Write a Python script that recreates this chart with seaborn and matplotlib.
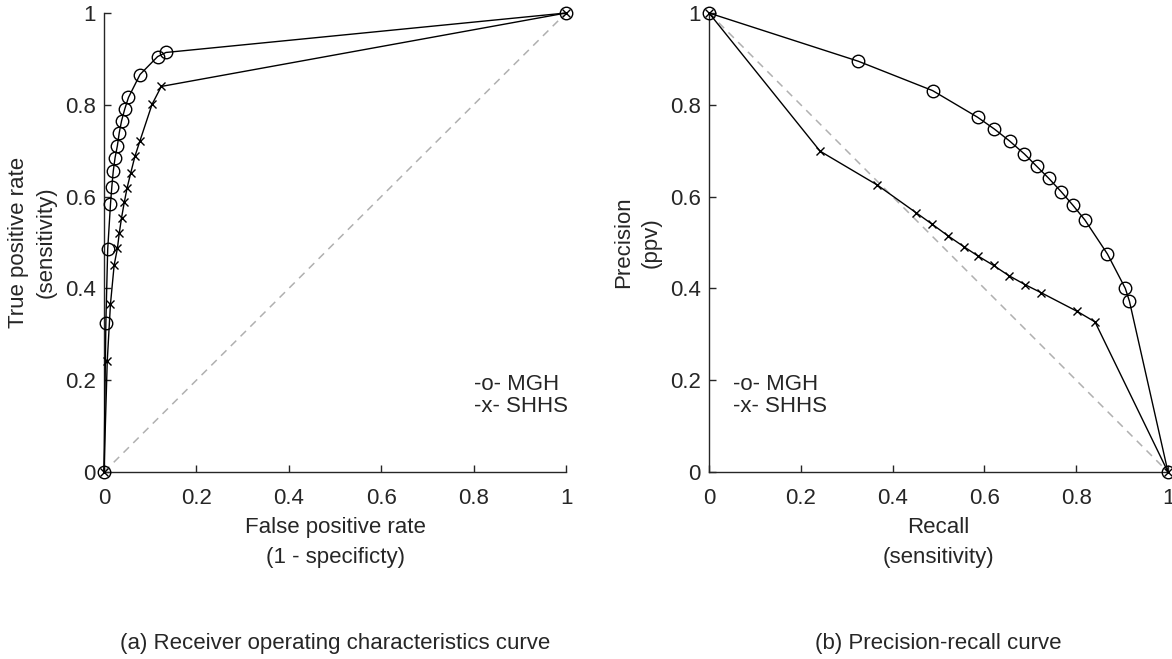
import numpy as np
import pandas as pd
import matplotlib
matplotlib.use("Agg")
import matplotlib.pyplot as plt
import seaborn as sns

# ROC curve points (FPR, TPR)
mgh_fpr = [0, 0.004, 0.008, 0.014, 0.017, 0.020, 0.024, 0.029, 0.033, 0.038, 0.045, 0.053, 0.078, 0.116, 0.134, 1]
mgh_tpr = [0, 0.324, 0.485, 0.583, 0.622, 0.655, 0.685, 0.711, 0.739, 0.765, 0.791, 0.816, 0.866, 0.905, 0.914, 1]
shhs_fpr = [0, 0.007, 0.014, 0.022, 0.029, 0.033, 0.038, 0.044, 0.050, 0.058, 0.067, 0.078, 0.104, 0.124, 1]
shhs_tpr = [0, 0.241, 0.366, 0.451, 0.487, 0.520, 0.554, 0.588, 0.619, 0.652, 0.688, 0.722, 0.801, 0.840, 1]

# Precision-recall curve points
mgh_recall = [0, 0.325, 0.487, 0.585, 0.622, 0.655, 0.687, 0.714, 0.740, 0.767, 0.793, 0.819, 0.868, 0.907, 0.916, 1]
mgh_precision = [1, 0.895, 0.831, 0.773, 0.747, 0.721, 0.693, 0.666, 0.640, 0.611, 0.581, 0.549, 0.475, 0.400, 0.372, 0]
shhs_recall = [0, 0.242, 0.367, 0.451, 0.486, 0.520, 0.555, 0.587, 0.620, 0.653, 0.689, 0.723, 0.802, 0.841, 1]
shhs_precision = [1, 0.699, 0.625, 0.565, 0.540, 0.515, 0.491, 0.470, 0.450, 0.428, 0.408, 0.391, 0.350, 0.327, 0]

ticks = [0, 0.2, 0.4, 0.6, 0.8, 1]
tick_labels = ["0", "0.2", "0.4", "0.6", "0.8", "1"]

sns.set_style("white")
plt.rcParams["font.family"] = ["Liberation Sans", "DejaVu Sans"]
axis_color = "#262626"
FS = 16

fig = plt.figure(figsize=(11.72, 6.59), dpi=100)
ax1 = fig.add_axes([104 / 1172, 1 - 472 / 659, 462 / 1172, 459 / 659])
ax2 = fig.add_axes([709 / 1172, 1 - 472 / 659, 459 / 1172, 459 / 659])


def draw_curve(ax, x, y, marker, ms):
    df = pd.DataFrame({"x": x, "y": y})
    sns.lineplot(data=df, x="x", y="y", ax=ax, sort=False, color="black",
                 linewidth=1.0, marker=marker, markersize=ms,
                 markerfacecolor="none", markeredgecolor="black",
                 markeredgewidth=1.0, clip_on=False, zorder=3)


# ROC panel
ax1.plot([0, 1], [0, 1], ls=(0, (5, 4)), color="#b0b0b0", lw=1.1, zorder=1)
draw_curve(ax1, mgh_fpr, mgh_tpr, "o", 9)
draw_curve(ax1, shhs_fpr, shhs_tpr, "x", 6)
ax1.text(0.8, 0.167, "-o- MGH\n-x- SHHS", transform=ax1.transAxes,
         fontsize=FS, va="center", ha="left", linespacing=1.1)
ax1.set_xlabel("False positive rate\n(1 - specificty)", fontsize=FS, color=axis_color,
               labelpad=6, linespacing=1.55)
ax1.set_ylabel("True positive rate\n(sensitivity)", fontsize=FS, color=axis_color,
               labelpad=6, linespacing=1.4)
fig.text(335 / 1172, 1 - 644 / 659, "(a) Receiver operating characteristics curve",
         fontsize=FS, ha="center", va="center", color=axis_color)

# Precision-recall panel
ax2.plot([0, 1], [1, 0], ls=(0, (5, 4)), color="#b0b0b0", lw=1.1, zorder=1)
draw_curve(ax2, mgh_recall, mgh_precision, "o", 9)
draw_curve(ax2, shhs_recall, shhs_precision, "x", 6)
ax2.text(0.052, 0.167, "-o- MGH\n-x- SHHS", transform=ax2.transAxes,
         fontsize=FS, va="center", ha="left", linespacing=1.1)
ax2.set_xlabel("Recall\n(sensitivity)", fontsize=FS, color=axis_color,
               labelpad=6, linespacing=1.55)
ax2.set_ylabel("Precision\n(ppv)", fontsize=FS, color=axis_color,
               labelpad=6, linespacing=1.4)
fig.text(938 / 1172, 1 - 644 / 659, "(b) Precision-recall curve",
         fontsize=FS, ha="center", va="center", color=axis_color)

for ax in (ax1, ax2):
    ax.set_xlim(0, 1)
    ax.set_ylim(0, 1)
    ax.set_xticks(ticks)
    ax.set_xticklabels(tick_labels)
    ax.set_yticks(ticks)
    ax.set_yticklabels(tick_labels)
    ax.tick_params(direction="in", length=5, width=1, colors=axis_color,
                   labelsize=FS, bottom=True, left=True)
    ax.tick_params(axis="x", pad=11.5)
    ax.tick_params(axis="y", pad=6)
    for side in ("top", "right"):
        ax.spines[side].set_visible(False)
    for side in ("left", "bottom"):
        ax.spines[side].set_color(axis_color)
        ax.spines[side].set_linewidth(1)
    ax.set_facecolor("white")
    ax.grid(False)

fig.savefig("out.png", dpi=100, facecolor="white")
